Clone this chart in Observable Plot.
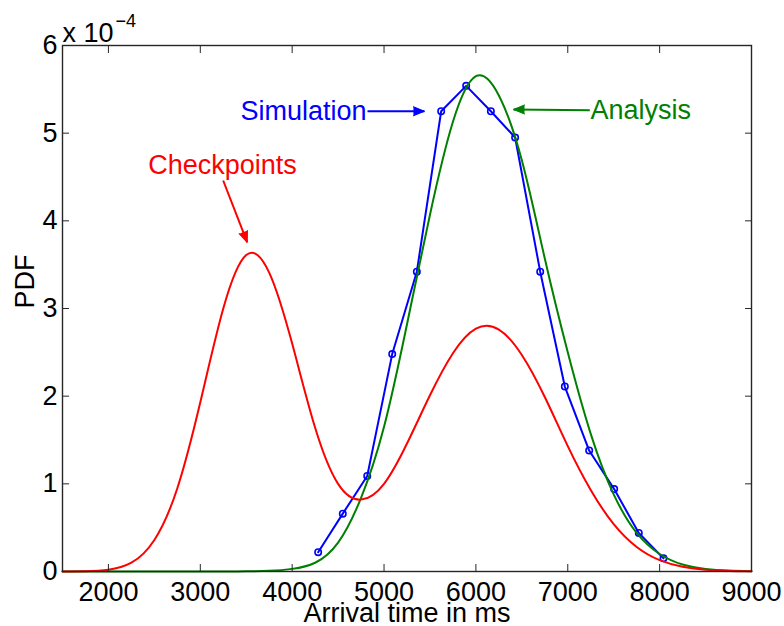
<!DOCTYPE html>
<html>
<head>
<meta charset="utf-8">
<script src="https://cdn.jsdelivr.net/npm/d3@7"></script>
<script src="https://cdn.jsdelivr.net/npm/@observablehq/plot@0.6"></script>
<style>
  html, body { margin: 0; padding: 0; background: #fff; }
  #chart { width: 784px; height: 626px; }
</style>
</head>
<body>
<div id="chart"></div>
<script>
// ---- data (PDF values in units of 1e-4) ----
const X_TICKS = [2000, 3000, 4000, 5000, 6000, 7000, 8000, 9000];
const Y_TICKS = [0, 1, 2, 3, 4, 5, 6];

// sample grid for the smooth curves (ms)
const GRID_X = [1500, 1750, 2000, 2250, 2500, 2750, 3000, 3250, 3500, 3750,
                4000, 4250, 4500, 4750, 5000, 5250, 5500, 5750, 6000, 6250,
                6500, 6750, 7000, 7250, 7500, 7750, 8000, 8250, 8500, 8750, 9000];

const CHECKPOINTS_Y = [0.00, 0.004, 0.02, 0.10, 0.36, 0.95, 1.93, 3.00, 3.61, 3.41,
                       2.60, 1.64, 1.00, 0.82, 1.00, 1.46, 2.01, 2.49, 2.77, 2.76,
                       2.47, 1.99, 1.43, 0.93, 0.54, 0.28, 0.13, 0.055, 0.021, 0.007, 0.002];

const ANALYSIS_Y = [0, 0, 0, 0, 0, 0, 0, 0, 0.002, 0.008,
                    0.03, 0.10, 0.33, 0.84, 1.65, 2.82, 4.07, 5.13, 5.65, 5.43,
                    4.69, 3.57, 2.50, 1.57, 0.88, 0.44, 0.20, 0.08, 0.03, 0.01, 0.003];

const SIM_X = [4283, 4551, 4817, 5089, 5357, 5622, 5894, 6163, 6427, 6700, 6968, 7233, 7505, 7773, 8042];
const SIM_Y = [0.22, 0.66, 1.09, 2.48, 3.42, 5.25, 5.54, 5.25, 4.95, 3.42, 2.11, 1.38, 0.94, 0.44, 0.15];

// annotations: label, label position, arrow from -> to
const ANN_TEXT = ["Simulation", "Analysis", "Checkpoints"];
const ANN_TX = [4809, 7247, 3242];
const ANN_TY = [5.25, 5.26, 4.63];
const ARROW_X1 = [4820, 7240, 3249];
const ARROW_Y1 = [5.25, 5.26, 4.46];
const ARROW_X2 = [5440, 6409, 3511];
const ARROW_Y2 = [5.25, 5.27, 3.755];

// ---- tables ----
const checkpoints = GRID_X.map((x, i) => ({x, y: CHECKPOINTS_Y[i]}));
const analysis = GRID_X.map((x, i) => ({x, y: ANALYSIS_Y[i]}));
const simulation = SIM_X.map((x, i) => ({x, y: SIM_Y[i]}));
const COLORS = {Simulation: "#0000ff", Analysis: "#008000", Checkpoints: "#ff0000"};
const HEAD_ROTATE = {Simulation: 90, Analysis: 270, Checkpoints: 159};
const ann = ANN_TEXT.map((t, i) => ({t, x: ANN_TX[i], y: ANN_TY[i],
  x1: ARROW_X1[i], y1: ARROW_Y1[i], x2: ARROW_X2[i], y2: ARROW_Y2[i]}));

const FS = 27;
const axisColor = "#262626";

function annText(name, anchor) {
  return Plot.text(ann.filter(d => d.t === name), {x: "x", y: "y", text: "t", fill: COLORS[name], textAnchor: anchor, lineAnchor: "middle"});
}

const chart = Plot.plot({
  width: 784,
  height: 626,
  marginLeft: 62,
  marginRight: 33,
  marginTop: 45,
  marginBottom: 55,
  style: {fontFamily: "'Liberation Sans', Arial, Helvetica, sans-serif", fontSize: FS + "px", background: "#fff", color: "#000"},
  x: {domain: [1500, 9000]},
  y: {domain: [0, 6]},
  marks: [
    // curves
    Plot.line(simulation, {x: "x", y: "y", stroke: COLORS.Simulation, strokeWidth: 2}),
    Plot.dot(simulation, {x: "x", y: "y", r: 3.2, stroke: COLORS.Simulation, strokeWidth: 1.6, fill: "none"}),
    Plot.line(analysis, {x: "x", y: "y", stroke: COLORS.Analysis, strokeWidth: 2, curve: "natural"}),
    Plot.line(checkpoints, {x: "x", y: "y", stroke: COLORS.Checkpoints, strokeWidth: 2, curve: "natural"}),
    // frame and axes (box with inward ticks)
    Plot.frame({stroke: axisColor, strokeWidth: 1.4}),
    Plot.axisX({ticks: X_TICKS, tickSize: -7, tickPadding: 17, tickFormat: d => String(d), label: null, stroke: axisColor}),
    Plot.axisX({ticks: X_TICKS, anchor: "top", tickSize: -7, tickFormat: () => "", label: null, stroke: axisColor}),
    Plot.axisY({ticks: Y_TICKS, tickSize: -7, tickPadding: 12, tickFormat: d => String(d), label: null, stroke: axisColor}),
    Plot.axisY({ticks: Y_TICKS, anchor: "right", tickSize: -7, tickFormat: () => "", label: null, stroke: axisColor}),
    // axis labels
    Plot.text(["Arrival time in ms"], {frameAnchor: "bottom", lineAnchor: "bottom", dy: 50, fill: "#000"}),
    Plot.text(["PDF"], {frameAnchor: "left", rotate: -90, lineAnchor: "bottom", dx: -29, fill: "#000"}),
    Plot.text(["x 10"], {frameAnchor: "top-left", textAnchor: "start", lineAnchor: "bottom", dx: 0, dy: -4, fill: "#000"}),
    Plot.text(["\u22124"], {frameAnchor: "top-left", textAnchor: "start", lineAnchor: "bottom", dx: 53, dy: -19, fontSize: 18, fill: "#000"}),
    // annotation arrows: shaft + filled head
    Plot.link(ann, {x1: "x1", y1: "y1", x2: "x2", y2: "y2", stroke: d => COLORS[d.t], strokeWidth: 2}),
    Plot.vector(ann, {x: "x2", y: "y2", rotate: d => HEAD_ROTATE[d.t], length: 11, r: 4.5, shape: "spike", anchor: "end",
                      fill: d => COLORS[d.t], stroke: d => COLORS[d.t], strokeWidth: 1}),
    annText("Simulation", "end"),
    annText("Analysis", "start"),
    annText("Checkpoints", "middle")
  ]
});
document.getElementById("chart").appendChild(chart);
</script>
</body>
</html>
